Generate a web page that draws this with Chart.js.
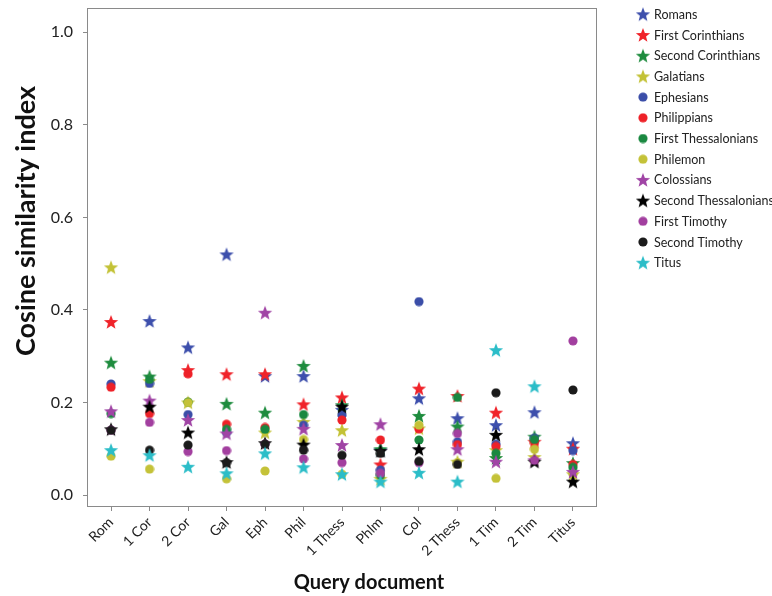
<!DOCTYPE html>
<html>
<head>
<meta charset="utf-8">
<title>Cosine similarity index by query document</title>
<script src="https://cdn.jsdelivr.net/npm/chart.js@4.4.1/dist/chart.umd.min.js"></script>
<style>
  html, body { margin: 0; padding: 0; background: #ffffff; }
  #wrap { width: 772px; height: 596px; }
</style>
</head>
<body>
<div id="wrap"><canvas id="chart" width="772" height="596"></canvas></div>
<script>
// Query documents (x axis)
const categories = ['Rom', '1 Cor', '2 Cor', 'Gal', 'Eph', 'Phil', '1 Thess', 'Phlm', 'Col', '2 Thess', '1 Tim', '2 Tim', 'Titus'];

// Y axis tick values
const yTicks = [0, 0.2, 0.4, 0.6, 0.8, 1.0];

// Similarity of each letter to each query document (null = the query itself)
const romans               = [null, 0.376, 0.319, 0.520, 0.257, 0.257, 0.184, 0.097, 0.209, 0.166, 0.151, 0.179, 0.112];
const firstCorinthians     = [0.374, null, 0.270, 0.261, 0.261, 0.196, 0.211, 0.066, 0.230, 0.214, 0.178, 0.115, 0.100];
const secondCorinthians    = [0.286, 0.256, null, 0.197, 0.178, 0.279, 0.194, 0.099, 0.171, 0.148, 0.080, 0.126, 0.069];
const galatians            = [0.492, 0.246, 0.200, null, 0.135, 0.158, 0.140, 0.035, 0.144, 0.072, 0.097, 0.082, 0.045];
const ephesians            = [0.240, 0.241, 0.174, 0.135, null, 0.151, 0.173, 0.054, 0.418, 0.115, 0.110, 0.123, 0.096];
const philippians          = [0.233, 0.176, 0.262, 0.153, 0.146, null, 0.162, 0.119, 0.143, 0.109, 0.105, 0.113, 0.066];
const firstThessalonians   = [0.176, 0.250, 0.201, 0.142, 0.142, 0.174, null, 0.043, 0.119, 0.211, 0.090, 0.120, 0.060];
const philemon             = [0.084, 0.056, 0.200, 0.035, 0.052, 0.120, 0.045, null, 0.151, 0.070, 0.036, 0.099, 0.045];
const colossians           = [0.181, 0.204, 0.162, 0.133, 0.394, 0.143, 0.108, 0.153, null, 0.099, 0.072, 0.075, 0.050];
const secondThessalonians  = [0.142, 0.191, 0.135, 0.071, 0.112, 0.109, 0.191, 0.095, 0.099, null, 0.130, 0.072, 0.029];
const firstTimothy         = [0.140, 0.157, 0.094, 0.096, 0.110, 0.078, 0.070, 0.047, 0.070, 0.133, null, 0.075, 0.333];
const secondTimothy        = [0.140, 0.097, 0.108, 0.070, 0.110, 0.097, 0.086, 0.090, 0.073, 0.066, 0.221, null, 0.227];
const titus                = [0.097, 0.086, 0.061, 0.047, 0.090, 0.060, 0.045, 0.029, 0.048, 0.029, 0.313, 0.235, null];

const seriesNames = ['Romans', 'First Corinthians', 'Second Corinthians', 'Galatians', 'Ephesians', 'Philippians',
  'First Thessalonians', 'Philemon', 'Colossians', 'Second Thessalonians', 'First Timothy', 'Second Timothy', 'Titus'];
const seriesValues = [romans, firstCorinthians, secondCorinthians, galatians, ephesians, philippians,
  firstThessalonians, philemon, colossians, secondThessalonians, firstTimothy, secondTimothy, titus];
const seriesShapes = ['star', 'star', 'star', 'star', 'circle', 'circle', 'circle', 'circle', 'star', 'star', 'circle', 'circle', 'star'];
const seriesColors = ['#3d4fac', '#f0232a', '#1e8c3e', '#c3c236', '#3b4ea8', '#ee2128', '#1a8840', '#c4c238',
  '#a044a5', '#000000', '#a23f9f', '#1b1b1b', '#2bbdc8'];

// Marker images: five-pointed star and filled circle
function makeStar(color) {
  const size = 16, c = document.createElement('canvas');
  c.width = size; c.height = size;
  const g = c.getContext('2d');
  const cx = size / 2, cy = size / 2 + 0.6, ro = 7.5, ri = 3.2;
  g.beginPath();
  for (let k = 0; k < 10; k++) {
    const r = k % 2 === 0 ? ro : ri;
    const a = -Math.PI / 2 + k * Math.PI / 5;
    const px = cx + r * Math.cos(a), py = cy + r * Math.sin(a);
    if (k === 0) g.moveTo(px, py); else g.lineTo(px, py);
  }
  g.closePath();
  g.fillStyle = color;
  g.fill();
  return c;
}
function makeDot(color) {
  const size = 10, c = document.createElement('canvas');
  c.width = size; c.height = size;
  const g = c.getContext('2d');
  g.beginPath();
  g.arc(size / 2, size / 2, 4.6, 0, Math.PI * 2);
  g.fillStyle = color;
  g.fill();
  return c;
}

const markers = seriesColors.map((col, i) => seriesShapes[i] === 'star' ? makeStar(col) : makeDot(col));

const datasets = seriesNames.map((name, i) => ({
  label: name,
  data: seriesValues[i].map((v, j) => ({ x: j, y: v })).filter(p => p.y !== null),
  pointStyle: markers[i],
  backgroundColor: seriesColors[i],
  borderColor: seriesColors[i],
  showLine: false,
  order: seriesNames.length - i   // later series drawn on top
}));

const FONT = 'Lato, "Open Sans", "DejaVu Sans", sans-serif';

// Plot frame, axis titles and the legend column
const decorations = {
  id: 'decorations',
  afterDraw(chart) {
    const { ctx, chartArea: a } = chart;
    ctx.save();
    ctx.strokeStyle = '#8a8a8a';
    ctx.lineWidth = 1;
    ctx.strokeRect(Math.round(a.left) + 0.5, Math.round(a.top) + 0.5,
      Math.round(a.right - a.left) - 1, Math.round(a.bottom - a.top) - 1);

    // axis titles
    ctx.fillStyle = '#111111';
    ctx.font = 'bold 20px ' + FONT;
    ctx.textAlign = 'center';
    ctx.textBaseline = 'middle';
    ctx.fillText('Query document', a.left + (a.right - a.left) / 2 + 27, 583);

    ctx.save();
    ctx.translate(26, 221);
    ctx.rotate(-Math.PI / 2);
    ctx.font = 'bold 27px ' + FONT;
    ctx.fillText('Cosine similarity index', 0, 0);
    ctx.restore();

    // legend
    const x0 = a.right + 46, top = 14.3, step = 20.7;
    ctx.font = '12.5px ' + FONT;
    ctx.textAlign = 'left';
    ctx.fillStyle = '#222222';
    chart.data.datasets.forEach((ds, i) => {
      const y = top + i * step;
      const img = ds.pointStyle;
      ctx.drawImage(img, x0 - img.width / 2, y - img.height / 2);
      ctx.fillText(ds.label, x0 + 11, y + 0.5);
    });
    ctx.restore();
  }
};

new Chart(document.getElementById('chart'), {
  type: 'scatter',
  data: { datasets },
  plugins: [decorations],
  options: {
    responsive: false,
    animation: false,
    layout: { padding: { top: 0, right: 175, left: 0, bottom: 0 } },
    plugins: { legend: { display: false }, tooltip: { enabled: false } },
    elements: { point: { radius: 5, hoverRadius: 5 } },
    scales: {
      x: {
        type: 'linear',
        min: -0.625,
        max: 12.625,
        afterFit(scale) { scale.height = 89; scale.paddingTop = 0; },
        afterBuildTicks(scale) { scale.ticks = categories.map((_, i) => ({ value: i })); },
        border: { display: false },
        grid: { drawOnChartArea: false, drawTicks: true, tickLength: 4, color: '#8a8a8a' },
        ticks: {
          autoSkip: false,
          minRotation: 45,
          maxRotation: 45,
          padding: 3,
          color: '#222222',
          font: { family: FONT, size: 14 },
          callback: (v) => categories[v]
        }
      },
      y: {
        min: -0.0259,
        max: 1.0525,
        afterFit(scale) { scale.width = 87; scale.paddingTop = 8; scale.paddingBottom = 0; },
        afterBuildTicks(scale) { scale.ticks = yTicks.map(v => ({ value: v })); },
        border: { display: false },
        grid: { drawOnChartArea: false, drawTicks: true, tickLength: 4, color: '#8a8a8a' },
        ticks: {
          padding: 10,
          color: '#222222',
          font: { family: FONT, size: 16 },
          callback: (v) => Number(v).toFixed(1)
        }
      }
    }
  }
});
</script>
</body>
</html>
